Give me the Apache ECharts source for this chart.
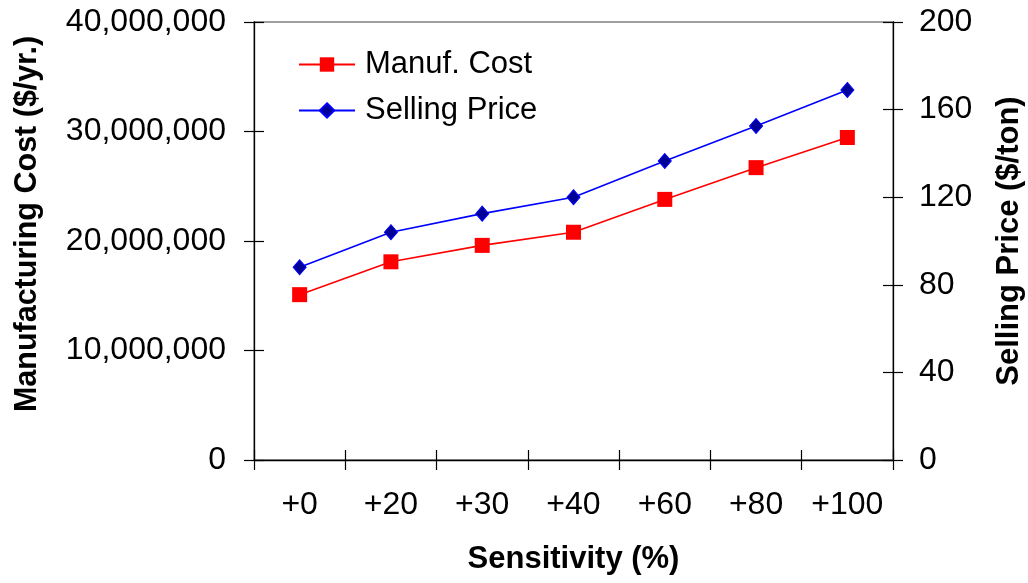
<!DOCTYPE html>
<html>
<head>
<meta charset="utf-8">
<script src="https://cdn.jsdelivr.net/npm/echarts@6/dist/echarts.min.js"></script>
<style>html,body{margin:0;padding:0;background:#fff}#c{width:1028px;height:583px}</style>
</head>
<body>
<div id="c"></div>
<script>
var categories = ['+0', '+20', '+30', '+40', '+60', '+80', '+100'];
var manufCost = [15100000, 18100000, 19600000, 20800000, 23800000, 26700000, 29450000];
var sellingPrice = [88, 104, 112.5, 120, 136.5, 152.5, 169];
var leftTicks = [0, 10000000, 20000000, 30000000, 40000000];
var rightTicks = [0, 40, 80, 120, 160, 200];

var FONT = '"Liberation Sans", Arial, sans-serif';
var chart = echarts.init(document.getElementById('c'));
var axisLine = {show: true, lineStyle: {color: '#000', width: 1.3}};
var tickStyle = {color: '#000', width: 1.2};
var gridRect = {left: 254, right: 135, top: 22, bottom: 123, containLabel: false, outerBoundsMode: 'none'};
function innerAxis(extra) {
  return Object.assign({
    axisLine: {show: false},
    axisLabel: {show: false},
    splitLine: {show: false},
    axisTick: {show: true, inside: true, length: 10, interval: 0, lineStyle: tickStyle}
  }, extra);
}
chart.setOption({
  animation: false,
  backgroundColor: '#fff',
  textStyle: {fontFamily: FONT},
  grid: [
    Object.assign({show: true, borderColor: '#808080', borderWidth: 1.3, backgroundColor: 'transparent'}, gridRect),
    Object.assign({}, gridRect)
  ],
  legend: {
    left: 293, top: 44, orient: 'vertical', itemWidth: 56, itemHeight: 18, itemGap: 15,
    textStyle: {fontFamily: FONT, fontSize: 31, color: '#000', padding: [0, 0, 0, 5]},
    data: ['Manuf. Cost', 'Selling Price']
  },
  xAxis: [{
    type: 'category', data: categories, boundaryGap: true, gridIndex: 0,
    name: 'Sensitivity (%)', nameLocation: 'middle', nameGap: 84,
    nameTextStyle: {fontFamily: FONT, fontSize: 31, fontWeight: 'bold', color: '#000'},
    axisLine: axisLine,
    axisTick: {show: true, length: 10, interval: 0, lineStyle: tickStyle},
    axisLabel: {fontFamily: FONT, fontSize: 32, color: '#000', margin: 29, interval: 0},
    splitLine: {show: false}
  }, innerAxis({type: 'category', data: categories, boundaryGap: true, gridIndex: 1, position: 'bottom'})],
  yAxis: [{
    type: 'value', min: 0, max: 40000000, interval: 10000000, position: 'left', gridIndex: 0,
    name: 'Manufacturing Cost ($/yr.)', nameLocation: 'middle', nameGap: 211,
    nameTextStyle: {fontFamily: FONT, fontSize: 30.5, fontWeight: 'bold', color: '#000', padding: [0, 0, 0, 34]},
    axisLine: axisLine,
    axisTick: {show: true, length: 10, lineStyle: tickStyle},
    axisLabel: {fontFamily: FONT, fontSize: 32, color: '#000', margin: 28,
      formatter: function (v) { return leftTicks.indexOf(v) >= 0 ? v.toLocaleString('en-US') : ''; }},
    splitLine: {show: false}
  }, {
    type: 'value', min: 0, max: 200, interval: 40, position: 'right', gridIndex: 0,
    name: 'Selling Price ($/ton)', nameLocation: 'middle', nameGap: 101,
    nameTextStyle: {fontFamily: FONT, fontSize: 31, fontWeight: 'bold', color: '#000'},
    axisLine: axisLine,
    axisTick: {show: true, length: 10, lineStyle: tickStyle},
    axisLabel: {fontFamily: FONT, fontSize: 32, color: '#000', margin: 26,
      formatter: function (v) { return rightTicks.indexOf(v) >= 0 ? String(v) : ''; }},
    splitLine: {show: false}
  },
  innerAxis({type: 'value', min: 0, max: 40000000, interval: 10000000, position: 'left', gridIndex: 1}),
  innerAxis({type: 'value', min: 0, max: 200, interval: 40, position: 'right', gridIndex: 1})
  ],
  series: [{
    name: 'Manuf. Cost', type: 'line', xAxisIndex: 0, yAxisIndex: 0, data: manufCost,
    symbol: 'rect', symbolSize: 15,
    lineStyle: {color: '#FF0000', width: 1.6},
    itemStyle: {color: '#FF0000'}
  }, {
    name: 'Selling Price', type: 'line', xAxisIndex: 0, yAxisIndex: 1, data: sellingPrice,
    symbol: 'diamond', symbolSize: [13, 15],
    lineStyle: {color: '#0000FF', width: 1.6},
    itemStyle: {color: '#000099', borderColor: '#0000FF', borderWidth: 1}
  }]
});
</script>
</body>
</html>
